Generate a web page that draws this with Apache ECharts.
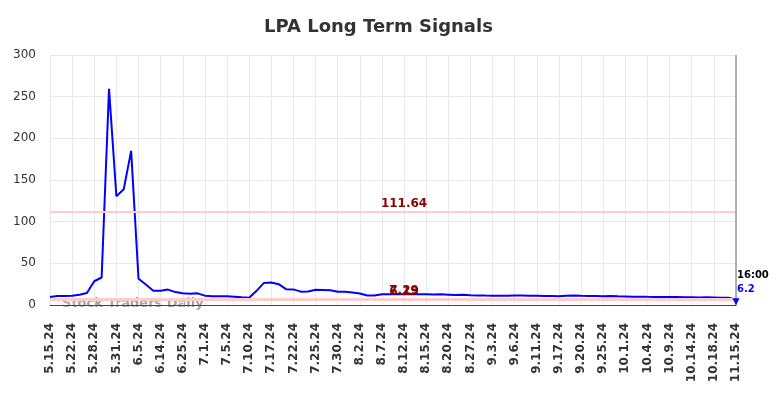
<!DOCTYPE html>
<html>
<head>
<meta charset="utf-8">
<title>LPA Long Term Signals</title>
<script src="https://cdn.jsdelivr.net/npm/echarts@6/dist/echarts.min.js"></script>
<style>
  html, body { margin: 0; padding: 0; background: #fff; }
  #main { width: 784px; height: 398px; }
</style>
</head>
<body>
<div id="main"></div>
<script>
// dates (every 3rd one is shown on the axis)
var dates = [
  '5.15.24','5.17.24','5.20.24','5.22.24','5.23.24','5.24.24','5.28.24','5.29.24','5.30.24','5.31.24',
  '6.3.24','6.4.24','6.5.24','6.7.24','6.11.24','6.14.24','6.18.24','6.21.24','6.25.24','6.26.24',
  '6.28.24','7.1.24','7.2.24','7.3.24','7.5.24','7.8.24','7.9.24','7.10.24','7.12.24','7.15.24',
  '7.17.24','7.18.24','7.19.24','7.22.24','7.23.24','7.24.24','7.25.24','7.26.24','7.29.24','7.30.24',
  '7.31.24','8.1.24','8.2.24','8.5.24','8.6.24','8.7.24','8.8.24','8.9.24','8.12.24','8.13.24',
  '8.14.24','8.15.24','8.16.24','8.19.24','8.20.24','8.22.24','8.26.24','8.27.24','8.29.24','8.30.24',
  '9.3.24','9.4.24','9.5.24','9.6.24','9.9.24','9.10.24','9.11.24','9.12.24','9.16.24','9.17.24',
  '9.18.24','9.19.24','9.20.24','9.23.24','9.24.24','9.25.24','9.26.24','9.30.24','10.1.24','10.2.24',
  '10.3.24','10.4.24','10.7.24','10.8.24','10.9.24','10.10.24','10.11.24','10.14.24','10.15.24','10.17.24',
  '10.18.24','10.25.24','11.4.24','11.15.24'
];
// LPA signal values
var signal = [
  9.5, 10.8, 10.8, 11.2, 12.4, 14.4, 28.5, 33, 259.5, 130.5,
  139, 185, 31.5, 24.5, 17, 17, 18.5, 15.5, 14, 13.5,
  14, 11.2, 10.5, 10.5, 10.5, 10, 9.3, 8.8, 17, 26.5,
  27, 25, 19, 18.7, 16, 16.3, 18.3, 18, 17.7, 16,
  16, 15, 13.7, 11.5, 11.5, 12.8, 13, 13.2, 13, 13.2,
  13, 12.8, 12.6, 12.8, 12.4, 12, 12.2, 11.8, 11.5, 11.3,
  11.2, 11.2, 11, 11.3, 11.5, 11.2, 11, 10.8, 10.8, 10.5,
  11.2, 11.3, 11, 10.8, 10.9, 10.6, 10.8, 10.4, 10.2, 10,
  10, 9.8, 9.7, 9.6, 9.5, 9.6, 9.3, 9.2, 9, 9.2,
  9, 8.8, 8.8, 6.2
];
// signal levels
var levels = [111.64, 7.29, 6.19];
var levelLabelIdx = 48;
var lastTime = '16:00';
var yTicks = { min: 0, max: 300, step: 50 };

var lastIdx = signal.length - 1;
var lastVal = signal[lastIdx];

var chart = echarts.init(document.getElementById('main'));

var levelPoints = levels.map(function (v) {
  return {
    coord: [levelLabelIdx, v],
    symbol: 'circle',
    symbolSize: 0,
    label: {
      show: true,
      position: 'inside',
      offset: [0, -8],
      formatter: String(v),
      color: '#8b0000',
      fontWeight: 'bold',
      fontSize: 12
    }
  };
});

chart.setOption({
  animation: false,
  textStyle: { fontFamily: 'DejaVu Sans' },
  title: {
    text: 'LPA Long Term Signals',
    left: 259,
    top: 13,
    textStyle: { fontSize: 18, fontWeight: 'bold', color: '#333' }
  },
  graphic: [{
    type: 'text',
    left: 62,
    top: 297,
    z: 0,
    style: {
      text: 'Stock Traders Daily',
      fill: '#a6a6a6',
      font: 'bold 13px DejaVu Sans'
    }
  }],
  grid: { left: 50, right: 48, top: 55, bottom: 93 },
  xAxis: {
    type: 'category',
    data: dates,
    boundaryGap: false,
    axisLine: { lineStyle: { color: '#444', width: 1 } },
    axisTick: { show: false },
    axisLabel: {
      interval: 2,
      rotate: 90,
      margin: 18,
      fontSize: 12,
      fontWeight: 'bold',
      color: '#333'
    },
    splitLine: { show: true, interval: 2, lineStyle: { color: '#e8e8e8', width: 1 } }
  },
  yAxis: {
    type: 'value',
    min: yTicks.min,
    max: yTicks.max,
    interval: yTicks.step,
    axisLine: { show: false },
    axisTick: { show: false },
    axisLabel: { fontSize: 12, color: '#333', margin: 14 },
    splitLine: { lineStyle: { color: '#e8e8e8', width: 1 } }
  },
  series: [{
    type: 'line',
    data: signal,
    showSymbol: false,
    z: 3,
    lineStyle: { color: '#0000ff', width: 2 },
    itemStyle: { color: '#0000ff' },
    markLine: {
      silent: true,
      symbol: 'none',
      label: { show: false },
      data: levels.map(function (v) {
        return { yAxis: v, lineStyle: { color: '#ffcccc', width: 2, type: 'solid' } };
      }).concat([
        { xAxis: lastIdx, lineStyle: { color: '#999', width: 1.5, type: 'solid' } }
      ])
    },
    markPoint: {
      silent: true,
      data: levelPoints.concat([
        {
          coord: [lastIdx, lastVal],
          symbol: 'triangle',
          symbolRotate: 180,
          symbolSize: 7,
          symbolOffset: [0, 2],
          itemStyle: { color: '#0000ff' },
          label: { show: false }
        },
        {
          coord: [lastIdx, lastVal],
          symbol: 'circle',
          symbolSize: 0,
          label: {
            show: true, position: 'inside', align: 'left',
            offset: [1, -24], formatter: lastTime,
            color: '#000', fontWeight: 'bold', fontSize: 10
          }
        },
        {
          coord: [lastIdx, lastVal],
          symbol: 'circle',
          symbolSize: 0,
          label: {
            show: true, position: 'inside', align: 'left',
            offset: [1, -10], formatter: String(lastVal),
            color: '#0000ff', fontWeight: 'bold', fontSize: 10
          }
        }
      ])
    }
  }]
});
</script>
</body>
</html>
